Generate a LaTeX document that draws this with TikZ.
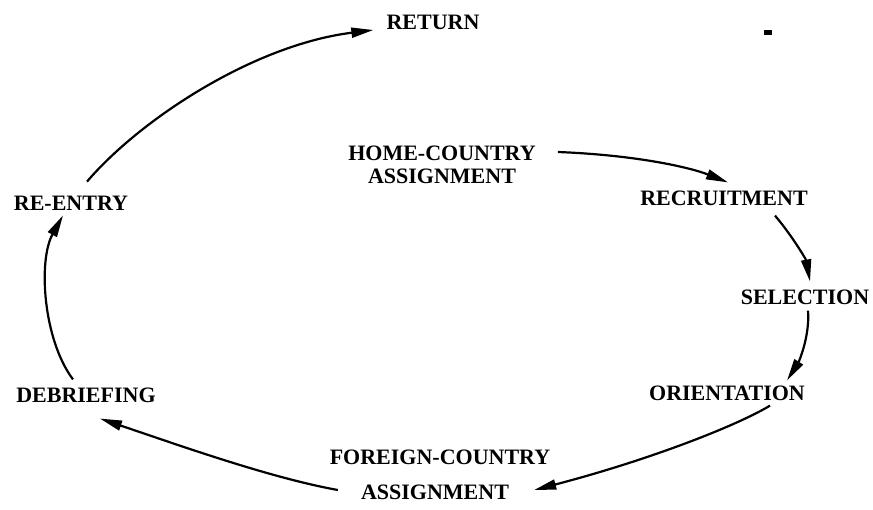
\documentclass[tikz,border=0pt]{standalone}
\usepackage{fontspec}
\setmainfont{Liberation Serif}
\usetikzlibrary{arrows.meta}
\begin{document}
\begin{tikzpicture}[x=1pt,y=-1pt,
  stage/.style={inner sep=0pt, font=\bfseries\fontsize{22}{23}\selectfont, align=center},
  flow/.style={line width=2.2pt, -{Triangle[length=22pt,width=10pt]}}]
\useasboundingbox (0,0) rectangle (873,509);

% stages of the cycle
\node[stage] (ret)  at (433,22)  {RETURN};
\node[stage] (home) at (442,165) {HOME-COUNTRY\\ASSIGNMENT};
\node[stage] (rec)  at (724,198) {RECRUITMENT};
\node[stage] (sel)  at (805,297) {SELECTION};
\node[stage] (ori)  at (727,393) {ORIENTATION};
\node[stage] (fc)   at (440,457) {FOREIGN-COUNTRY};
\node[stage] (fa)   at (435,492) {ASSIGNMENT};
\node[stage] (deb)  at (86,395)  {DEBRIEFING};
\node[stage] (reen) at (71,203)  {RE-ENTRY};

% connectors around the cycle
\draw[flow] ([shift={(22,-13)}]home.east) .. controls +(78,3) and +(-38,-15) .. ([shift={(4,-8)}]rec.north);
\draw[flow] ([shift={(51,10)}]rec.south) .. controls +(17,20) and +(-4,-22) .. ([shift={(5,-8)}]sel.north);
\draw[flow] ([shift={(3,6)}]sel.south) .. controls +(2,25) and +(12,-19) .. ([shift={(-18,-5)}]ori.north east);
\draw[flow] ([shift={(-35,5)}]ori.south east) .. controls +(-33,20) and +(115,-30) .. ([shift={(25,-2)}]fa.east);
\draw[flow] ([shift={(-23,-2)}]fa.west) .. controls +(-67,-12) and +(80,27) .. ([shift={(14,16)}]deb.south);
\draw[flow] ([shift={(-13,-8)}]deb.north) .. controls +(-30,-40) and +(-25,45) .. ([shift={(-8,5)}]reen.south);
\draw[flow] ([shift={(16,-14)}]reen.north) .. controls +(53,-62) and +(-120,15) .. ([shift={(-13,8)}]ret.west);

% small printed speck
\fill (764,30) rectangle (772,35);
\end{tikzpicture}
\end{document}
